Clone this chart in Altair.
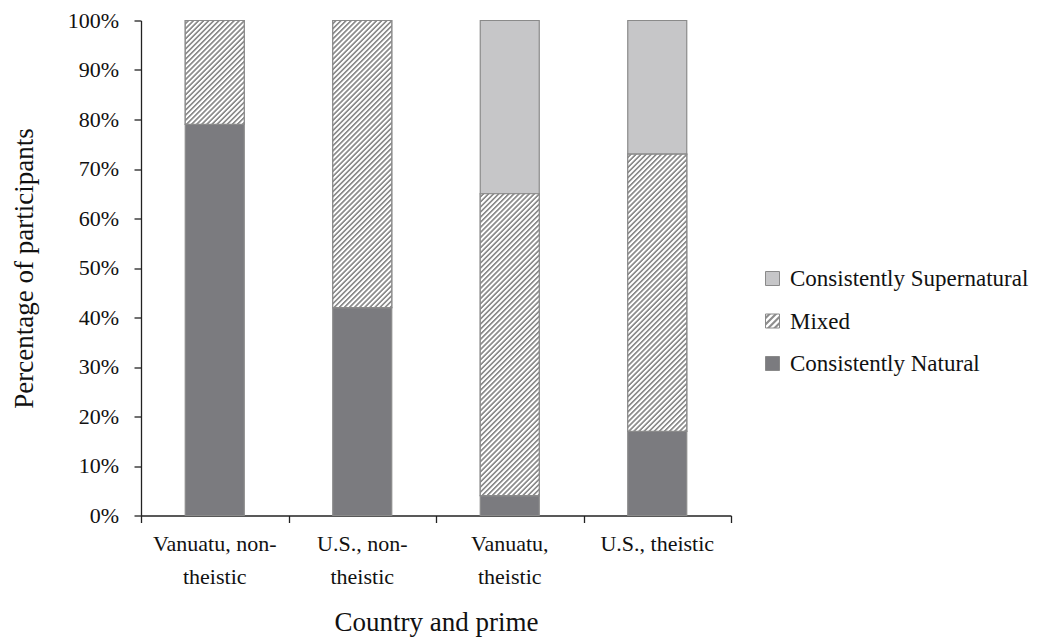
import json
import math
import altair as alt
import pandas as pd

# ---- data ----
categories = ["Vanuatu, non-theistic", "U.S., non-theistic", "Vanuatu, theistic", "U.S., theistic"]
tick_labels = ["Vanuatu, non-\ntheistic", "U.S., non-\ntheistic", "Vanuatu,\ntheistic", "U.S., theistic"]
series = ["Consistently Natural", "Mixed", "Consistently Supernatural"]
legend_order = ["Consistently Supernatural", "Mixed", "Consistently Natural"]
natural = [79, 42, 4, 17]
mixed = [21, 58, 61, 56]
supernatural = [0, 0, 35, 27]
y_ticks = [0, 10, 20, 30, 40, 50, 60, 70, 80, 90, 100]

# ---- styling ----
FONT = "Liberation Serif"
TXT = "#111111"
NAT = "#7b7b7f"
SUP = "#c6c6c8"
STRIPE = "#8e8e8e"
STROKE = "#8a8a8a"
AXIS = "#222222"
TOP = 12.5
PLOT_W, PLOT_H = 590, 495
BAR_W = 59
LEG_Y0 = 258.5   # centre of first legend row, relative to plot top
LEG_STEP = 42.5

rows = []
for i, c in enumerate(categories):
    lo = 0
    for s, vals in zip(series, [natural, mixed, supernatural]):
        v = vals[i]
        rows.append({"category": c, "series": s, "value": v, "lo": lo, "hi": lo + v})
        lo += v
df = pd.DataFrame(rows)
ytick_df = pd.DataFrame({"tick": y_ticks, "label": [f"{t}%" for t in y_ticks]})
xlab_df = pd.DataFrame({"category": categories, "label": tick_labels})


def hatch_dict(w, h, period=3.6, color=STRIPE, bg="white"):
    """Diagonal '/' stripes as a linear gradient in bounding-box units."""
    r = h / w
    denom = w * (1 + r * r)
    dt = period * math.sqrt(2) / denom
    tmax = (1 + r) / (1 + r * r)
    n = int(tmax / dt) + 2
    stops = []
    profile = [(0.0, bg), (0.3, bg), (0.5, color), (0.78, color), (0.98, bg)]
    for k in range(n):
        for frac, col in profile:
            off = round(min(1.0, (k + frac) * dt), 5)
            stops.append({"offset": off, "color": col})
        if (k + 1) * dt >= 1.0:
            break
    return {"gradient": "linear", "x1": 0, "y1": 0, "x2": 1, "y2": round(r, 5), "stops": stops}


def hatch(w, h, **kw):
    d = hatch_dict(w, h, **kw)
    return alt.LinearGradient(
        gradient="linear", x1=d["x1"], y1=d["y1"], x2=d["x2"], y2=d["y2"],
        stops=[alt.GradientStop(offset=s["offset"], color=s["color"]) for s in d["stops"]],
    )


x_scale = alt.Scale(domain=categories, paddingInner=0, paddingOuter=0)
y_scale = alt.Scale(domain=[0, 100], nice=False, zero=True)

x_axis = alt.Axis(
    title="Country and prime",
    labels=False,
    tickBand="extent",
    tickSize=7,
    tickWidth=1.3,
    tickColor=AXIS,
    domainColor=AXIS,
    domainWidth=1.3,
    titleFont=FONT,
    titleFontSize=27,
    titleFontWeight="normal",
    titleColor=TXT,
    titlePadding=86,
    grid=False,
)

y_axis = alt.Axis(
    title="Percentage of participants",
    values=y_ticks,
    labels=False,
    tickSize=7,
    tickWidth=1.3,
    tickColor=AXIS,
    domainColor=AXIS,
    domainWidth=1.3,
    titleFont=FONT,
    titleFontSize=27,
    titleFontWeight="normal",
    titleColor=TXT,
    titlePadding=95,
    grid=False,
)

# hatched swatch for the legend's "Mixed" entry, passed to the colour range as an expression
legend_hatch_expr = json.dumps(hatch_dict(14, 14, period=4.5))

legend = alt.Legend(
    title=None,
    orient="none",
    legendX=624,
    legendY=LEG_Y0 - 8,
    direction="vertical",
    symbolType="square",
    symbolSize=196,
    symbolStrokeColor=STROKE,
    symbolStrokeWidth=1,
    labelExpr="''",
    labelFontSize=1,
    labelOffset=0,
    rowPadding=LEG_STEP - 19,
)

base = alt.Chart(df)

bars = base.transform_filter("datum.value > 0").mark_bar(
    size=BAR_W, stroke=STROKE, strokeWidth=1.2
).encode(
    x=alt.X("category:N", scale=x_scale, axis=x_axis, sort=categories),
    y=alt.Y("lo:Q", scale=y_scale, axis=y_axis),
    y2="hi:Q",
    color=alt.Color(
        "series:N",
        scale=alt.Scale(domain=legend_order, range=[SUP, alt.ExprRef(legend_hatch_expr), NAT]),
        legend=legend,
    ),
)

layers = [bars]
for i, c in enumerate(categories):
    h = mixed[i] * PLOT_H / 100.0
    if h <= 0:
        continue
    ov = base.transform_filter(
        "datum.series === 'Mixed' && datum.category === " + json.dumps(c)
    ).mark_bar(size=BAR_W, fill=hatch(BAR_W, h), stroke=STROKE, strokeWidth=1.2).encode(
        x=alt.X("category:N", scale=x_scale, axis=x_axis, sort=categories),
        y=alt.Y("lo:Q", scale=y_scale, axis=y_axis),
        y2="hi:Q",
    )
    layers.append(ov)

# tick labels of the y axis
ylabels = alt.Chart(ytick_df).mark_text(
    align="right", baseline="middle", font=FONT, fontSize=22, fontWeight="normal", color=TXT
).encode(
    x=alt.value(-22),
    y=alt.Y("tick:Q", scale=y_scale, axis=y_axis),
    text="label:N",
)
layers.append(ylabels)

# tick labels of the x axis (two-line)
xlabels = alt.Chart(xlab_df).mark_text(
    align="center", baseline="top", font=FONT, fontSize=22, fontWeight="normal", color=TXT,
    lineBreak="\n", lineHeight=33,
).encode(
    x=alt.X("category:N", scale=x_scale, axis=x_axis, sort=categories),
    y=alt.value(PLOT_H + 18),
    text="label:N",
)
layers.append(xlabels)

# legend labels, placed beside the legend's swatches
for k, name in enumerate(legend_order):
    lab = alt.Chart(pd.DataFrame({"name": [name]})).mark_text(
        align="left", baseline="middle", font=FONT, fontSize=23, fontWeight="normal", color=TXT
    ).encode(
        x=alt.value(649),
        y=alt.value(LEG_Y0 + LEG_STEP * k),
        text="name:N",
    )
    layers.append(lab)

chart = alt.layer(*layers).properties(
    width=PLOT_W,
    height=PLOT_H,
    background="white",
    autosize=alt.AutoSizeParams(type="none"),
    padding={"left": 133, "top": TOP, "right": 311, "bottom": 635 - TOP - PLOT_H},
).configure_view(
    stroke=None
)

chart.save("out.html", embed_options={"renderer": "svg", "actions": False})
